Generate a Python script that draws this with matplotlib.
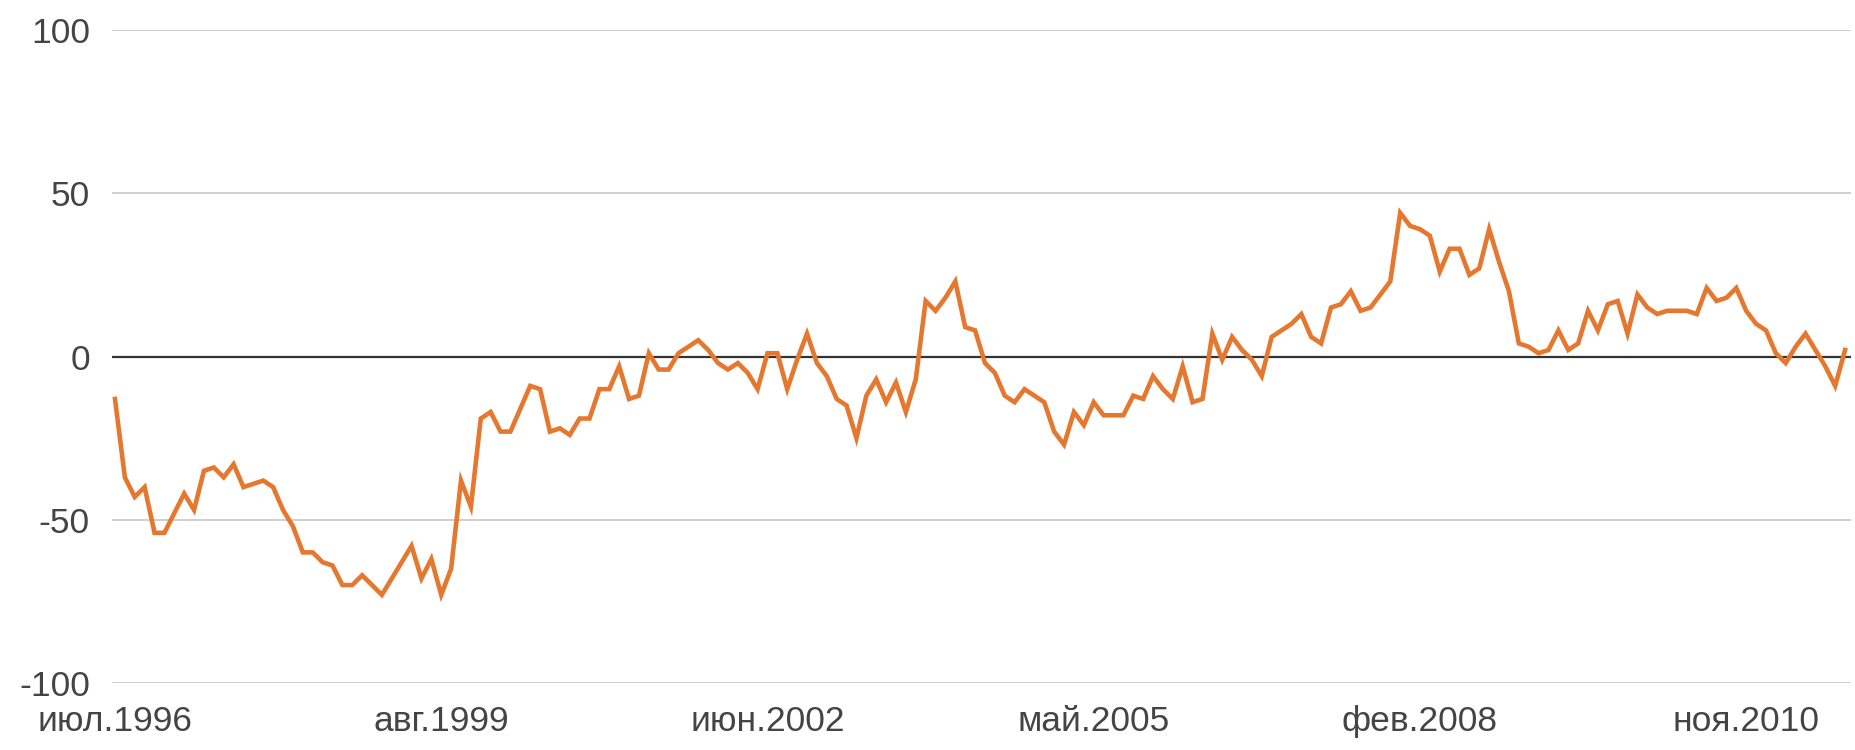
import matplotlib.pyplot as plt

# monthly index values
values = [
    -13, -37, -43, -40, -54, -54, -48, -42, -47, -35,
    -34, -37, -33, -40, -39, -38, -40, -47, -52, -60,
    -60, -63, -64, -70, -70, -67, -70, -73, -68, -63,
    -58, -68, -62, -73, -65, -38, -46, -19, -17, -23,
    -23, -16, -9, -10, -23, -22, -24, -19, -19, -10,
    -10, -3, -13, -12, 1, -4, -4, 1, 3, 5,
    2, -2, -4, -2, -5, -10, 1, 1, -10, -1,
    7, -2, -6, -13, -15, -25, -12, -7, -14, -8,
    -17, -7, 17, 14, 18, 23, 9, 8, -2, -5,
    -12, -14, -10, -12, -14, -23, -27, -17, -21, -14,
    -18, -18, -18, -12, -13, -6, -10, -13, -3, -14,
    -13, 7, -1, 6, 2, -1, -6, 6, 8, 10,
    13, 6, 4, 15, 16, 20, 14, 15, 19, 23,
    44, 40, 39, 37, 26, 33, 33, 25, 27, 39,
    29, 20, 4, 3, 1, 2, 8, 2, 4, 14,
    8, 16, 17, 7, 19, 15, 13, 14, 14, 14,
    13, 21, 17, 18, 21, 14, 10, 8, 1, -2,
    3, 7, 2, -3, -9, 2,
]

tick_labels = ["июл.1996", "авг.1999", "июн.2002", "май.2005", "фев.2008", "ноя.2010"]
tick_step = 33
y_ticks = [-100, -50, 0, 50, 100]

plt.rcParams['font.family'] = ['Liberation Sans', 'DejaVu Sans']

fig = plt.figure(figsize=(18.55, 7.5), dpi=100)
ax = fig.add_axes([112 / 1855, 1 - 683 / 750, (1851 - 112) / 1855, (683 - 30) / 750])

x = list(range(len(values)))
ax.plot(x, values, color="#E6772F", lw=3.3, solid_joinstyle="miter", zorder=3)
ax.axhline(0, color="#333333", lw=1.6, zorder=2)

ax.set_ylim(-100, 100)
ax.set_xlim(-0.3, len(values) - 1 + 0.6)
ax.set_yticks(y_ticks)
ax.set_yticklabels([str(v) for v in y_ticks])
ax.set_xticks([i * tick_step for i in range(len(tick_labels))])
ax.set_xticklabels(tick_labels)

ax.yaxis.grid(True, color="#cccccc", lw=1.3)
ax.set_axisbelow(True)
for s in ax.spines.values():
    s.set_visible(False)
ax.tick_params(axis="both", length=0, labelsize=25.5, colors="#444444")
ax.tick_params(axis="y", pad=16)
ax.tick_params(axis="x", pad=16)

fig.savefig("out.png", dpi=100)
